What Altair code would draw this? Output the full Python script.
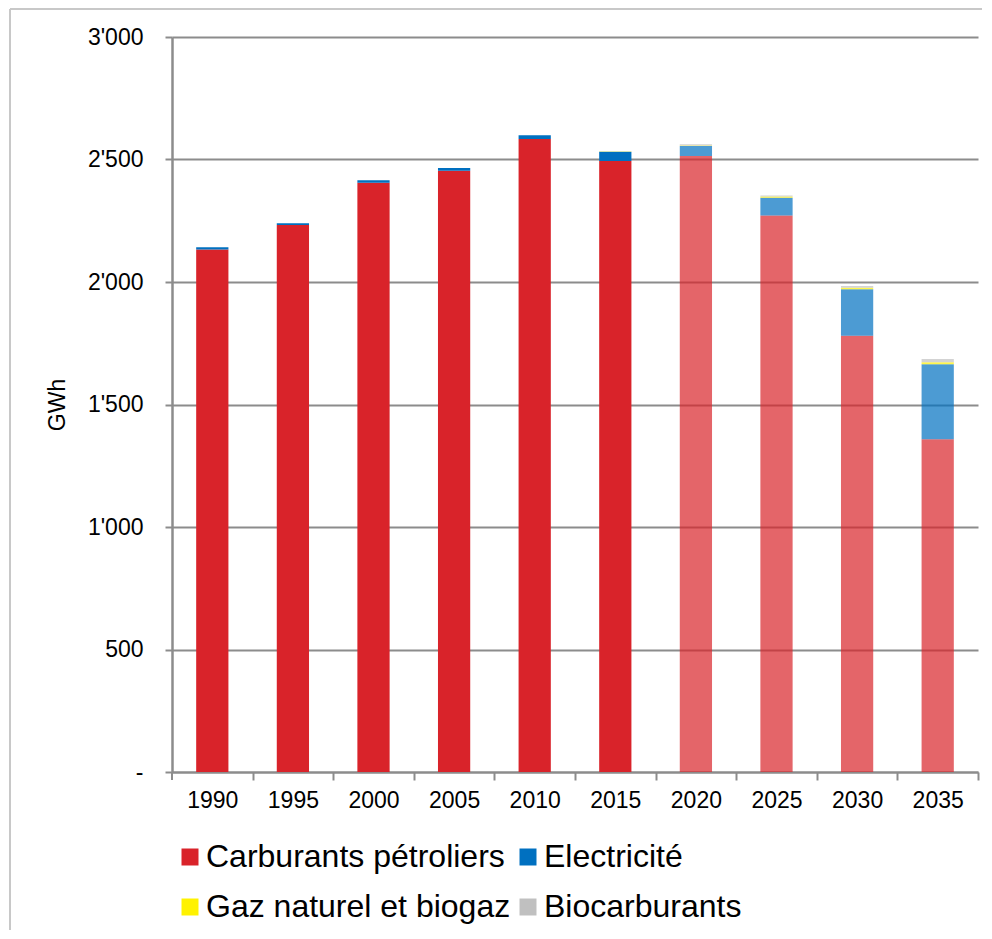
import altair as alt
import pandas as pd

years = ["1990", "1995", "2000", "2005", "2010", "2015", "2020", "2025", "2030", "2035"]
projected = [False, False, False, False, False, False, True, True, True, True]
petrol = [2133, 2233, 2405, 2454, 2584, 2494, 2514, 2271, 1781, 1358]
electricity = [9, 7, 10, 11, 15, 38, 41, 73, 189, 306]
gas = [0, 0, 0, 0, 0, 1, 2, 5, 7, 8]
biofuel = [0, 0, 0, 0, 0, 0, 5, 4, 7, 14]

series_names = ["Carburants pétroliers", "Electricité", "Gaz naturel et biogaz", "Biocarburants"]
series_colors = ["#D9232A", "#0070C0", "#FFF200", "#C0C0C0"]
series_values = [petrol, electricity, gas, biofuel]

rows = []
for s_i, (name, vals) in enumerate(zip(series_names, series_values)):
    for y, p, v in zip(years, projected, vals):
        rows.append({"year": y, "source": name, "value": v, "order": s_i, "proj": "p" if p else "h"})
df = pd.DataFrame(rows)

FONT = "Liberation Sans"
W = 806
STEP = W / 10.0

bars = alt.Chart(df).mark_bar().encode(
    x=alt.X("year:N", sort=years,
            scale=alt.Scale(paddingInner=0.6, paddingOuter=0.3),
            axis=alt.Axis(title=None, labelAngle=0, labelFontSize=23, labelFont=FONT,
                          labelColor="black", tickSize=8, tickOffset=STEP / 2,
                          labelOffset=-STEP / 2,
                          tickColor="#8C8C8C", tickWidth=2, domainColor="#8C8C8C",
                          domainWidth=2, labelPadding=9, grid=False)),
    y=alt.Y("value:Q", stack="zero",
            scale=alt.Scale(domain=[0, 3000], nice=False),
            axis=alt.Axis(title="GWh", values=[0, 500, 1000, 1500, 2000, 2500, 3000],
                          labelExpr="datum.value == 0 ? '-' : replace(datum.label, ',', \"'\")",
                          format=",d", labelFontSize=23, labelFont=FONT, labelColor="black",
                          tickSize=7, tickColor="#8C8C8C", tickWidth=2,
                          domainColor="#8C8C8C", domainWidth=2.5, labelPadding=22,
                          titleFontSize=23, titleFont=FONT, titleFontWeight="normal",
                          titleColor="black", titlePadding=18,
                          grid=True, gridColor="#8C8C8C", gridWidth=2)),
    color=alt.Color("source:N", sort=series_names,
                    scale=alt.Scale(domain=series_names, range=series_colors),
                    legend=alt.Legend(title=None, orient="none", legendX=2, legendY=804,
                                      direction="horizontal", columns=2,
                                      symbolType="square", symbolSize=289,
                                      symbolStrokeWidth=0, symbolOpacity=1,
                                      labelFontSize=32, labelFont=FONT, labelColor="black",
                                      rowPadding=18, columnPadding=1, labelOffset=0,
                                      padding=0, labelLimit=0)),
    order=alt.Order("order:Q", sort="ascending"),
    opacity=alt.Opacity("proj:N", scale=alt.Scale(domain=["h", "p"], range=[1.0, 0.7]),
                        legend=None),
)

frame_data = alt.Data(values=[{"k": 1}])
frame_left = alt.Chart(frame_data).mark_rule(color="#C8C8C8", strokeWidth=2).encode(
    x=alt.value(-162), y=alt.value(-28), y2=alt.value(893))
frame_top = alt.Chart(frame_data).mark_rule(color="#C8C8C8", strokeWidth=2).encode(
    x=alt.value(-162), x2=alt.value(810), y=alt.value(-28))
first_tick = alt.Chart(frame_data).mark_rule(color="#8C8C8C", strokeWidth=2).encode(
    x=alt.value(0), y=alt.value(735), y2=alt.value(743))

chart = alt.layer(bars, frame_left, frame_top, first_tick).properties(
    width=W, height=735,
    padding={"left": 1, "top": 0, "right": 0, "bottom": 0},
).configure_view(stroke=None).configure_axisY(
    titleFontSize=23, titleFont=FONT, titleFontWeight="normal", titleColor="black"
)

chart.save("out.html", embed_options={"renderer": "svg", "actions": False})
